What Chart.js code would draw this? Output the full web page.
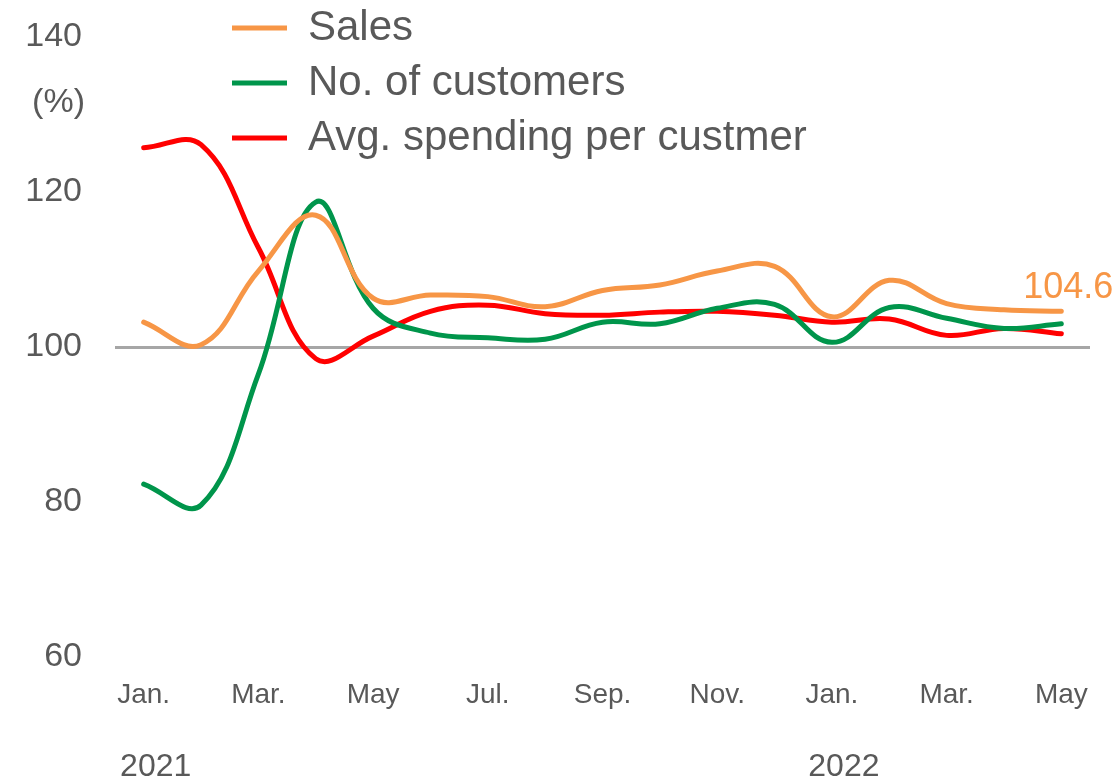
<!DOCTYPE html>
<html>
<head>
<meta charset="utf-8">
<script src="https://cdn.jsdelivr.net/npm/chart.js@4"></script>
<style>
  body { margin: 0; background: #fff; }
  #wrap { width: 1120px; height: 778px; position: relative; }
</style>
</head>
<body>
<div id="wrap"><canvas id="myChart"></canvas></div>
<script>
const months = ["Jan.", "Feb.", "Mar.", "Apr.", "May", "Jun.", "Jul.", "Aug.", "Sep.",
  "Oct.", "Nov.", "Dec.", "Jan.", "Feb.", "Mar.", "Apr.", "May"];
const years = ["2021", "", "", "", "", "", "", "", "", "", "", "", "2022", "", "", "", ""];

const sales = [103.2, 100.3, 109.8, 117.0, 106.3, 106.7, 106.5, 105.2, 107.3,
  108.0, 109.8, 110.4, 103.9, 108.6, 105.6, 104.8, 104.6];
const customers = [82.3, 79.6, 96.5, 118.7, 105.0, 101.8, 101.2, 101.0, 103.2,
  103.0, 105.0, 105.5, 100.6, 105.1, 103.7, 102.4, 103.0];
const spending = [125.7, 126.1, 112.8, 98.5, 101.4, 104.6, 105.4, 104.3, 104.1,
  104.5, 104.6, 104.1, 103.2, 103.6, 101.5, 102.4, 101.7];

const FONT = "'Liberation Sans', Arial, sans-serif";
const GREY = "#595959";
const ORANGE = "#F79646";

const ctx = document.getElementById("myChart");

const chart = new Chart(ctx, {
  type: "line",
  data: {
    labels: months,
    datasets: [
      { label: "Sales", data: sales, borderColor: ORANGE, backgroundColor: ORANGE },
      { label: "No. of customers", data: customers, borderColor: "#00954B", backgroundColor: "#00954B" },
      { label: "Avg. spending per custmer", data: spending, borderColor: "#FF0000", backgroundColor: "#FF0000" },
    ],
  },
  options: {
    responsive: true,
    maintainAspectRatio: false,
    animation: false,
    layout: { padding: { top: 37, right: 30, left: 0, bottom: 0 } },
    elements: {
      line: { borderWidth: 5, tension: 0.4, borderCapStyle: "round" },
      point: { radius: 0, hoverRadius: 0, borderWidth: 5 },
    },
    plugins: {
      tooltip: { enabled: false },
      legend: {
        position: "left",
        align: "start",
        labels: {
          usePointStyle: true,
          pointStyle: "line",
          pointStyleWidth: 55,
          padding: 13,
          color: GREY,
          font: { family: FONT, size: 42 },
        },
      },
    },
    scales: {
      x: {
        weight: 0,
        offset: true,
        grid: { display: false },
        border: { display: false },
        ticks: {
          autoSkip: false,
          maxRotation: 0,
          padding: 16,
          color: GREY,
          font: { family: FONT, size: 28, lineHeight: 1 },
          callback: function (value, index) {
            return index % 2 === 0 ? months[index] : "";
          },
        },
        afterFit: function (scale) { scale.height = 60; },
      },
      x2: {
        type: "category",
        labels: years,
        position: "bottom",
        weight: 1,
        offset: true,
        grid: { display: false },
        border: { display: false },
        ticks: {
          autoSkip: false,
          maxRotation: 0,
          padding: 26,
          labelOffset: 12,
          color: GREY,
          font: { family: FONT, size: 32, lineHeight: 1 },
        },
        afterFit: function (scale) { scale.height = 61; },
      },
      y: {
        min: 60,
        max: 140,
        border: { display: false },
        grid: {
          drawTicks: false,
          color: (c) => (c.tick && c.tick.value === 100 ? "#A6A6A6" : "rgba(0,0,0,0)"),
          lineWidth: 3,
        },
        ticks: {
          stepSize: 20,
          padding: 33,
          color: GREY,
          font: { family: FONT, size: 34 },
        },
        afterFit: function (scale) {
          scale.width = 115;
          scale.paddingTop = 0;
          scale.paddingBottom = 0;
        },
      },
    },
  },
  plugins: [
    {
      beforeInit: function (chart) {
        const fitValue = chart.legend.fit;
        chart.legend.fit = function fit() {
          fitValue.bind(chart.legend)();
          this.width = 0;
        };
      },
      afterLayout: function (chart) {
        const lg = chart.legend;
        lg.left = 219;
        lg.right = 900;
        lg.top = -6;
        lg.bottom = 400;
      },
      afterDraw: function (chart) {
        const c = chart.ctx;
        const y = chart.scales.y;
        c.save();
        c.font = "34px " + FONT;
        c.fillStyle = GREY;
        c.textAlign = "right";
        c.textBaseline = "middle";
        c.fillText("(%)", y.right - 30, y.getPixelForValue(140) + 66);

        const meta = chart.getDatasetMeta(0);
        const last = meta.data[meta.data.length - 1];
        c.font = "36px " + FONT;
        c.fillStyle = ORANGE;
        c.textAlign = "center";
        c.fillText(sales[sales.length - 1].toFixed(1), last.x + 7, last.y - 23);
        c.restore();
      },
    },
  ],
});
</script>
</body>
</html>
